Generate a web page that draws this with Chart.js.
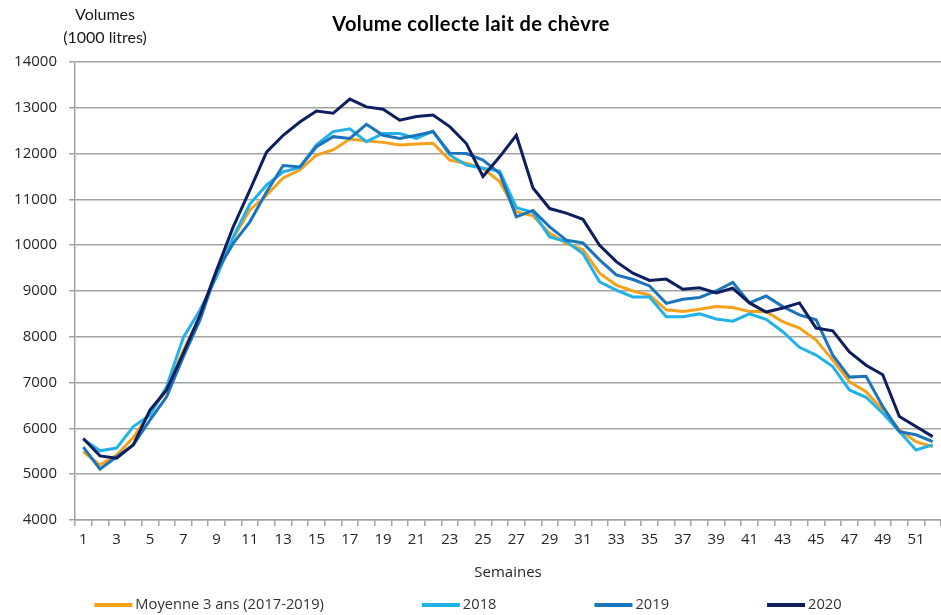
<!DOCTYPE html>
<html>
<head>
<meta charset="utf-8">
<script src="https://cdn.jsdelivr.net/npm/chart.js@4.4.1/dist/chart.umd.min.js"></script>
<style>
html,body{margin:0;padding:0;background:#fff;overflow:hidden}
#wrap{width:941px;height:615px;position:relative}
</style>
</head>
<body>
<div id="wrap"><canvas id="c" width="941" height="615"></canvas></div>
<script>
const chartTitle = 'Volume collecte lait de chèvre';
const yCaption = ['Volumes', '(1000 litres)'];
const xCaption = 'Semaines';

const weeks = ['1','2','3','4','5','6','7','8','9','10','11','12','13','14','15','16','17','18','19','20',
  '21','22','23','24','25','26','27','28','29','30','31','32','33','34','35','36','37','38','39','40',
  '41','42','43','44','45','46','47','48','49','50','51','52'];

const seriesNames = ['Moyenne 3 ans (2017-2019)', '2018', '2019', '2020'];

const moyenne = [5490,5200,5420,5800,6350,6830,7700,8430,9450,10150,10770,11090,11470,11640,11970,12080,12320,12275,12245,12190,
  12210,12225,11860,11790,11680,11390,10730,10640,10260,10040,9900,9390,9130,9000,8910,8590,8550,8600,8660,8640,
  8550,8550,8330,8190,7930,7490,7020,6800,6400,5970,5710,5600];

const y2018 = [5760,5510,5570,6040,6290,6910,7980,8580,9310,10180,10900,11310,11600,11700,12190,12480,12540,12260,12440,12440,
  12330,12490,11970,11750,11680,11620,10820,10720,10180,10080,9820,9200,9020,8870,8870,8440,8440,8500,8390,8340,
  8500,8380,8110,7770,7600,7350,6840,6680,6330,5930,5530,5640];

const y2019 = [5590,5110,5380,5640,6180,6690,7560,8360,9420,10040,10510,11160,11740,11710,12150,12370,12330,12640,12400,12330,
  12400,12480,12010,12000,11860,11570,10620,10760,10400,10110,10050,9680,9350,9250,9110,8730,8820,8860,9000,9190,
  8740,8890,8660,8480,8370,7600,7120,7140,6480,5930,5860,5710];

const y2020 = [5780,5400,5350,5640,6400,6840,7640,8470,9450,10400,11200,12030,12400,12690,12930,12880,13190,13020,12970,12730,
  12810,12840,12590,12220,11500,11930,12400,11250,10800,10700,10565,10000,9640,9390,9230,9260,9040,9070,8960,9060,
  8740,8540,8630,8740,8190,8130,7670,7380,7170,6260,6040,5820];

const colors = ['#F7A11A', '#22B2EA', '#1B74BC', '#0D1F5E'];
const drawOrder = [3, 2, 1, 0];

const yMin = 4000, yMax = 14000, yStep = 1000;

const TICK_FONT = {family: '"Open Sans", sans-serif', size: 15};
const GRID = '#a3a3a3';

const captionPlugin = {
  id: 'captions',
  afterDraw(chart) {
    const ctx = chart.ctx;
    const area = chart.chartArea;
    ctx.save();
    // title
    ctx.fillStyle = '#000';
    ctx.font = 'bold 20px Lato, sans-serif';
    ctx.textAlign = 'center';
    ctx.textBaseline = 'middle';
    if ('letterSpacing' in ctx) ctx.letterSpacing = '0.4px';
    ctx.fillText(chartTitle, 471, 25);
    if ('letterSpacing' in ctx) ctx.letterSpacing = '0px';
    // y caption
    ctx.fillStyle = '#1a1a1a';
    ctx.font = '16px Lato, sans-serif';
    ctx.fillText(yCaption[0], 105, 15);
    ctx.fillText(yCaption[1], 105, 38);
    // x caption
    ctx.fillStyle = '#262626';
    ctx.font = '15px "Open Sans", sans-serif';
    ctx.fillText(xCaption, (area.left + area.right) / 2, 573);
    // legend
    ctx.font = '14.7px "Open Sans", sans-serif';
    const gap = 98, lineLen = 38, textGap = 3;
    const ds = chart.data.datasets;
    const widths = ds.map(d => lineLen + textGap + ctx.measureText(d.label).width);
    const total = widths.reduce((a, b) => a + b, 0) + gap * (widths.length - 1);
    let x = 468 - total / 2;
    ds.forEach((d, i) => {
      ctx.fillStyle = d.borderColor;
      ctx.fillRect(x, 603, lineLen, 4);
      ctx.fillStyle = '#333';
      ctx.textAlign = 'left';
      ctx.fillText(d.label, x + lineLen + textGap, 605);
      x += widths[i] + gap;
    });
    ctx.restore();
  }
};

function build() {
  const values = [moyenne, y2018, y2019, y2020];
  new Chart(document.getElementById('c'), {
    type: 'line',
    data: {
      labels: weeks,
      datasets: seriesNames.map((name, i) => ({
        label: name,
        data: values[i],
        borderColor: colors[i],
        backgroundColor: colors[i],
        borderWidth: 3,
        pointRadius: 0,
        tension: 0,
        fill: false,
        order: drawOrder[i]
      }))
    },
    options: {
      responsive: false,
      animation: false,
      layout: {padding: {top: 62, left: 0, right: 0, bottom: 0}},
      plugins: {legend: {display: false}, title: {display: false}, tooltip: {enabled: false}},
      scales: {
        x: {
          offset: true,
          grid: {offset: true, drawOnChartArea: false, drawTicks: true, tickLength: 6, color: GRID, lineWidth: 1.5},
          border: {display: true, color: GRID, width: 1.5},
          ticks: {
            autoSkip: false, maxRotation: 0, minRotation: 0, color: '#262626', font: TICK_FONT, padding: 5,
            callback(v, i) { return i % 2 === 0 ? this.getLabelForValue(v) : ''; }
          },
          afterFit(s) { s.height = 95; }
        },
        y: {
          min: yMin, max: yMax,
          ticks: {stepSize: yStep, color: '#262626', font: TICK_FONT, padding: 12,
            callback(v) { return String(v); }},
          grid: {color: GRID, lineWidth: 1.5, tickLength: 6, drawTicks: true},
          border: {display: true, color: GRID, width: 1.5},
          afterFit(s) { s.width = 75; }
        }
      }
    },
    plugins: [captionPlugin]
  });
}

Promise.all([
  document.fonts.load('15px "Open Sans"'),
  document.fonts.load('bold 20px Lato'),
  document.fonts.load('16px Lato')
]).then(build, build);
</script>
</body>
</html>
